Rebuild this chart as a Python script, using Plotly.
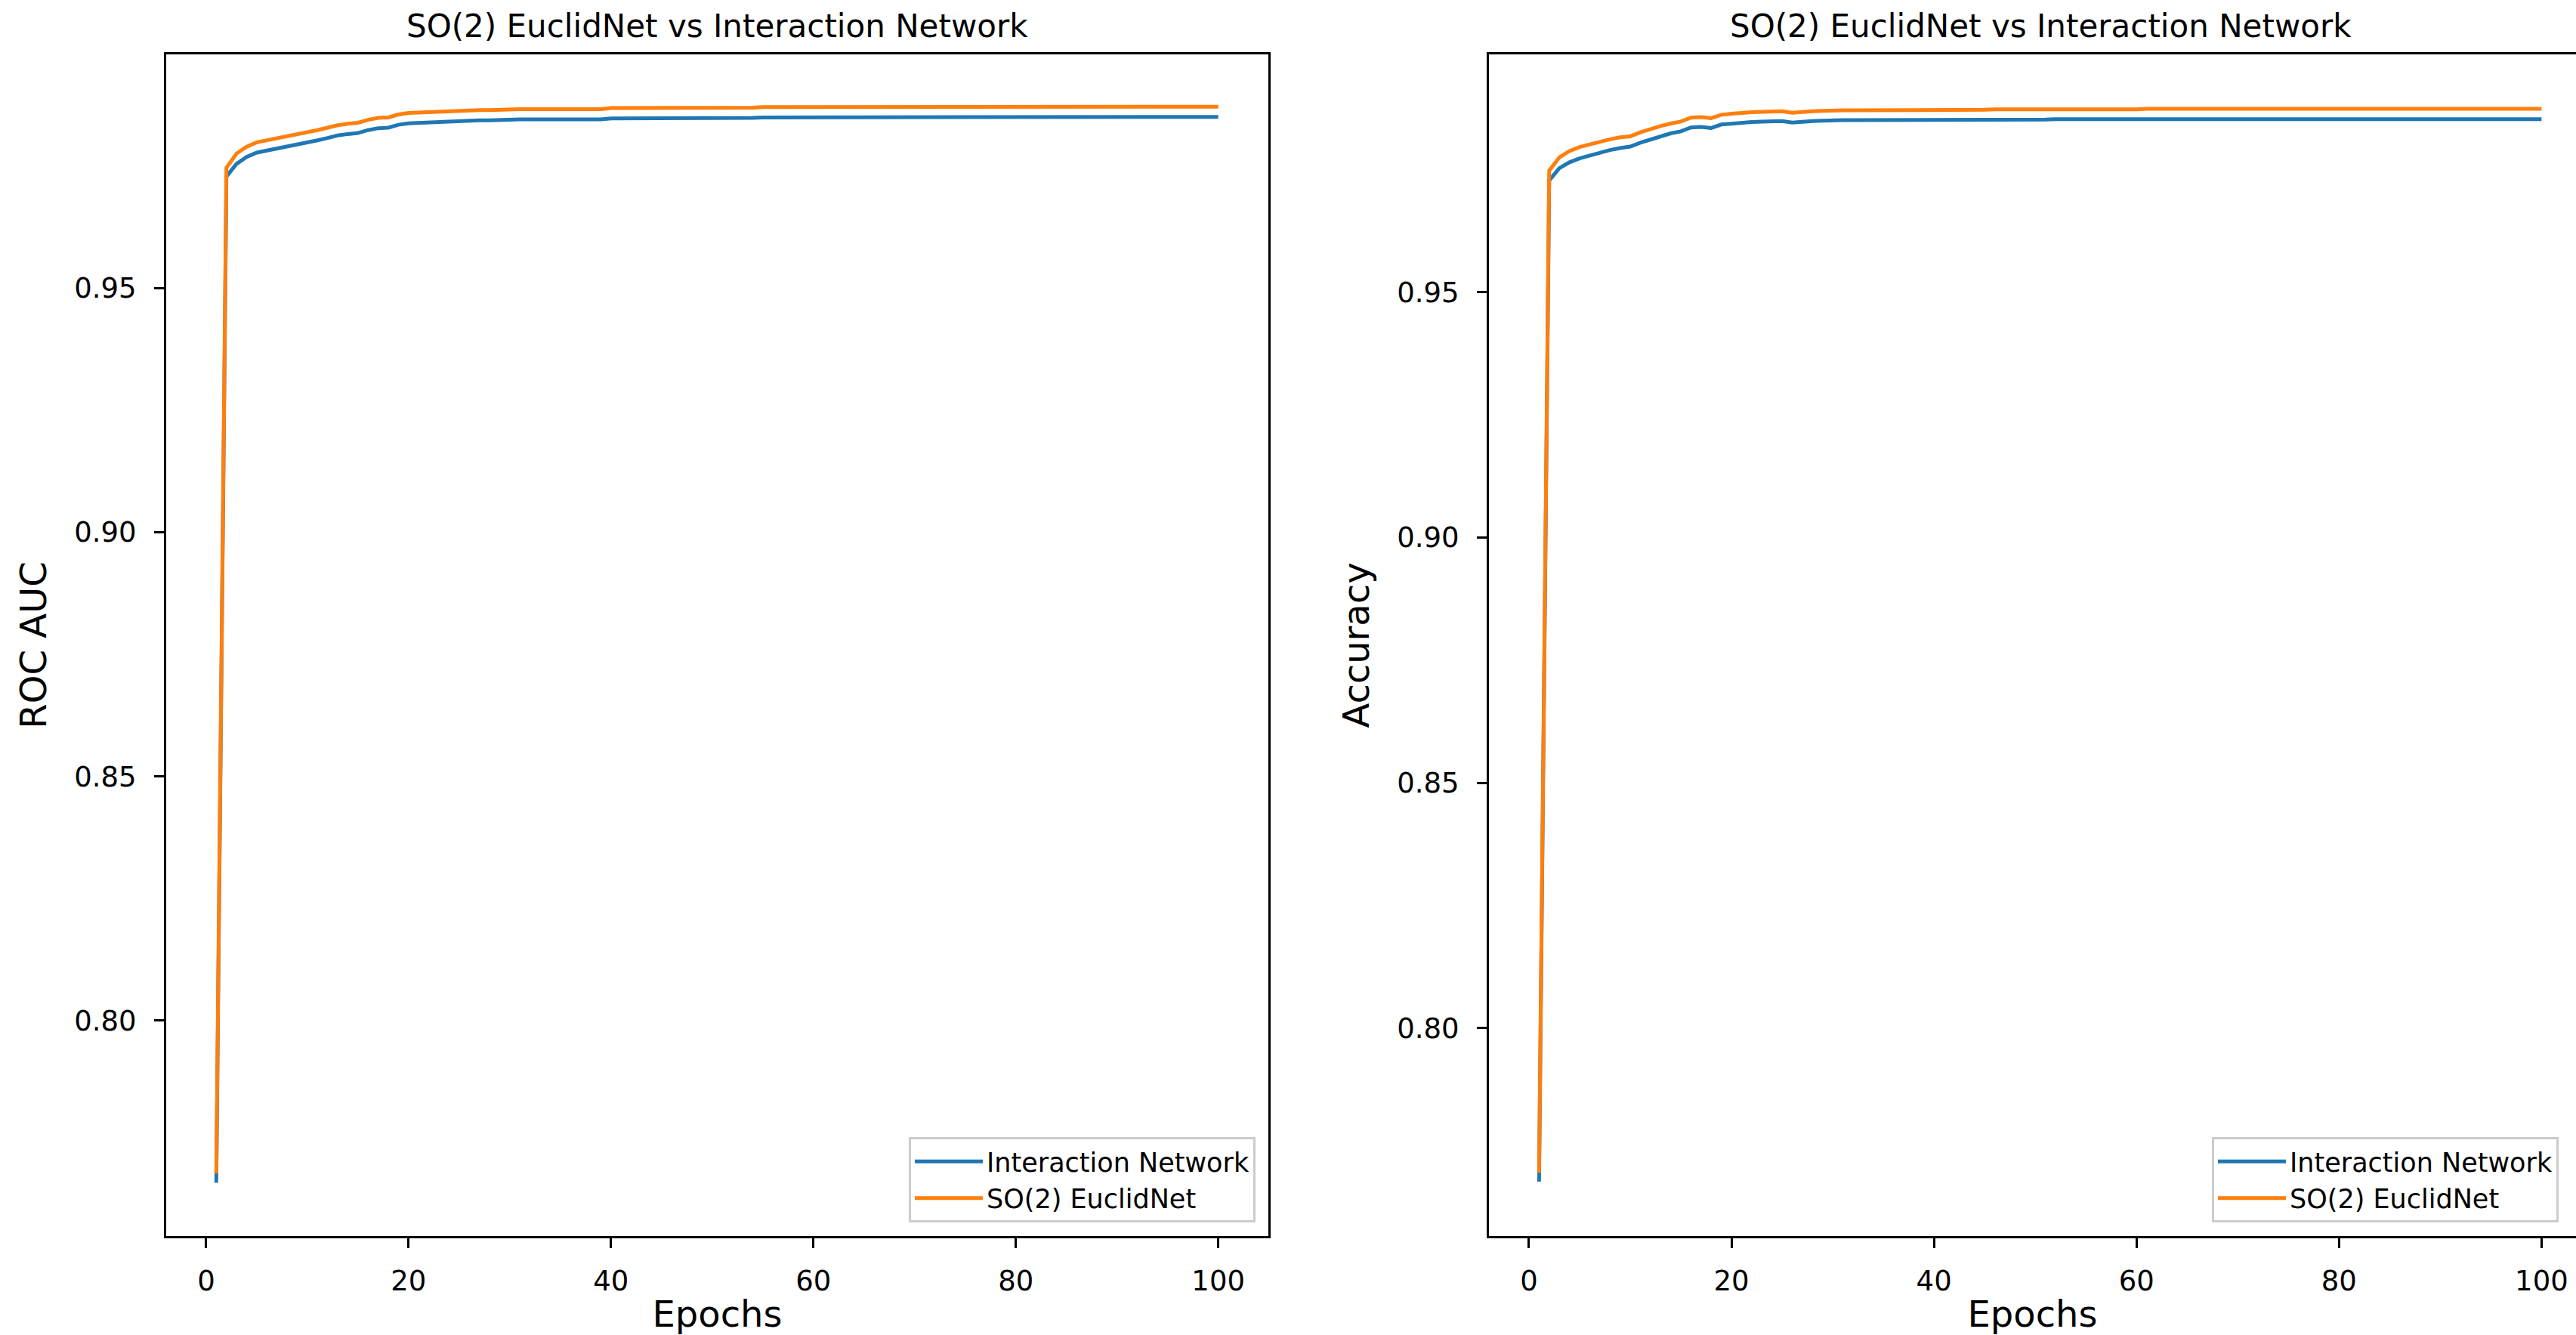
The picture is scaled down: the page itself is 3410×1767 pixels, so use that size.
import plotly.graph_objects as go

W, H = 3410, 1767
FONT = "DejaVu Sans"
BLUE = "#1f77b4"
ORANGE = "#ff7f0e"

epochs = list(range(1, 101))
title_text = "SO(2) EuclidNet vs Interaction Network"
series_names = ["Interaction Network", "SO(2) EuclidNet"]
x_ticks = [0, 20, 40, 60, 80, 100]
y_ticks = [0.80, 0.85, 0.90, 0.95]

roc_in = [0.7668, 0.9728, 0.9754, 0.9768, 0.9777, 0.9781, 0.9785, 0.9789, 0.9794, 0.9798,
          0.9802, 0.9807, 0.9812, 0.9815, 0.9817, 0.9823, 0.9827, 0.9828, 0.9834, 0.9837,
          0.9838, 0.9839, 0.9840, 0.9841, 0.9842, 0.9842, 0.9843, 0.9843, 0.9844, 0.9845,
          0.9845, 0.9845, 0.9845, 0.9846, 0.9846, 0.9846, 0.9846, 0.9846, 0.9845, 0.9847,
          0.9847, 0.9847, 0.9847, 0.9847, 0.9848, 0.9848, 0.9848, 0.9848, 0.9847, 0.9848,
          0.9848, 0.9848, 0.9848, 0.9848, 0.9849, 0.9849, 0.9849, 0.9849, 0.9849, 0.9849,
          0.9849, 0.9849, 0.9849, 0.9849, 0.9849, 0.9849, 0.9849, 0.9849, 0.9849, 0.9849,
          0.9850, 0.9850, 0.9850, 0.9850, 0.9850, 0.9850, 0.9850, 0.9850, 0.9850, 0.9850,
          0.9850, 0.9850, 0.9850, 0.9850, 0.9850, 0.9850, 0.9850, 0.9850, 0.9850, 0.9850,
          0.9850, 0.9850, 0.9850, 0.9850, 0.9850, 0.9850, 0.9850, 0.9850, 0.9850, 0.9850]

roc_so2 = [0.7687, 0.9746, 0.9775, 0.9789, 0.9798, 0.9802, 0.9806, 0.9810, 0.9815, 0.9819,
           0.9823, 0.9828, 0.9833, 0.9836, 0.9838, 0.9844, 0.9848, 0.9849, 0.9855, 0.9858,
           0.9859, 0.9860, 0.9861, 0.9862, 0.9863, 0.9863, 0.9864, 0.9864, 0.9865, 0.9866,
           0.9866, 0.9866, 0.9866, 0.9867, 0.9867, 0.9867, 0.9867, 0.9867, 0.9866, 0.9868,
           0.9868, 0.9868, 0.9868, 0.9868, 0.9869, 0.9869, 0.9869, 0.9869, 0.9868, 0.9869,
           0.9869, 0.9869, 0.9869, 0.9869, 0.9870, 0.9870, 0.9870, 0.9870, 0.9870, 0.9870,
           0.9870, 0.9870, 0.9870, 0.9870, 0.9870, 0.9870, 0.9870, 0.9870, 0.9870, 0.9870,
           0.9871, 0.9871, 0.9871, 0.9871, 0.9871, 0.9871, 0.9871, 0.9871, 0.9871, 0.9871,
           0.9871, 0.9871, 0.9871, 0.9871, 0.9871, 0.9871, 0.9871, 0.9871, 0.9871, 0.9871,
           0.9871, 0.9871, 0.9871, 0.9871, 0.9871, 0.9871, 0.9871, 0.9871, 0.9871, 0.9871]

acc_in = [0.7687, 0.9728, 0.9753, 0.9765, 0.9773, 0.9779, 0.9785, 0.9790, 0.9794, 0.9797,
          0.9805, 0.9812, 0.9818, 0.9824, 0.9828, 0.9836, 0.9837, 0.9835, 0.9842, 0.9844,
          0.9846, 0.9847, 0.9848, 0.9849, 0.9849, 0.9846, 0.9848, 0.9849, 0.9850, 0.9851,
          0.9851, 0.9851, 0.9851, 0.9852, 0.9852, 0.9852, 0.9852, 0.9852, 0.9852, 0.9852,
          0.9852, 0.9852, 0.9852, 0.9851, 0.9852, 0.9852, 0.9852, 0.9852, 0.9852, 0.9852,
          0.9852, 0.9853, 0.9853, 0.9853, 0.9853, 0.9853, 0.9853, 0.9852, 0.9853, 0.9853,
          0.9853, 0.9853, 0.9853, 0.9853, 0.9853, 0.9853, 0.9853, 0.9853, 0.9853, 0.9853,
          0.9853, 0.9853, 0.9853, 0.9853, 0.9853, 0.9853, 0.9853, 0.9853, 0.9853, 0.9853,
          0.9853, 0.9853, 0.9853, 0.9853, 0.9853, 0.9853, 0.9853, 0.9853, 0.9853, 0.9853,
          0.9853, 0.9853, 0.9853, 0.9853, 0.9853, 0.9853, 0.9853, 0.9853, 0.9853, 0.9853]

acc_so2 = [0.7705, 0.9748, 0.9775, 0.9788, 0.9796, 0.9802, 0.9807, 0.9812, 0.9816, 0.9818,
           0.9826, 0.9833, 0.9839, 0.9844, 0.9848, 0.9856, 0.9857, 0.9855, 0.9862, 0.9864,
           0.9866, 0.9867, 0.9868, 0.9869, 0.9869, 0.9866, 0.9868, 0.9869, 0.9870, 0.9871,
           0.9871, 0.9871, 0.9871, 0.9872, 0.9872, 0.9872, 0.9872, 0.9872, 0.9872, 0.9872,
           0.9872, 0.9872, 0.9872, 0.9871, 0.9872, 0.9873, 0.9873, 0.9873, 0.9873, 0.9873,
           0.9873, 0.9873, 0.9873, 0.9873, 0.9873, 0.9873, 0.9873, 0.9872, 0.9873, 0.9873,
           0.9874, 0.9874, 0.9874, 0.9874, 0.9874, 0.9874, 0.9874, 0.9874, 0.9874, 0.9874,
           0.9874, 0.9874, 0.9874, 0.9874, 0.9874, 0.9874, 0.9874, 0.9874, 0.9874, 0.9874,
           0.9874, 0.9874, 0.9874, 0.9874, 0.9874, 0.9874, 0.9874, 0.9874, 0.9874, 0.9874,
           0.9874, 0.9874, 0.9874, 0.9874, 0.9874, 0.9874, 0.9874, 0.9874, 0.9874, 0.9874]

fig = go.Figure()
LW = 5
fig.add_trace(go.Scatter(x=epochs, y=roc_in, mode="lines", name=series_names[0],
                         line=dict(color=BLUE, width=LW), xaxis="x", yaxis="y", legend="legend"))
fig.add_trace(go.Scatter(x=epochs, y=roc_so2, mode="lines", name=series_names[1],
                         line=dict(color=ORANGE, width=LW), xaxis="x", yaxis="y", legend="legend"))
fig.add_trace(go.Scatter(x=epochs, y=acc_in, mode="lines", name=series_names[0],
                         line=dict(color=BLUE, width=LW), xaxis="x2", yaxis="y2", legend="legend2"))
fig.add_trace(go.Scatter(x=epochs, y=acc_so2, mode="lines", name=series_names[1],
                         line=dict(color=ORANGE, width=LW), xaxis="x2", yaxis="y2", legend="legend2"))

# pixel geometry
L_x0, L_x1 = 220 / W, 1679 / W
R_x0, R_x1 = 1971 / W, 1.0
Y0, Y1 = 1 - 1636 / H, 1 - 72 / H

axis_common = dict(
    showline=True, linecolor="black", linewidth=3,
    ticks="outside", ticklen=13, tickwidth=3, tickcolor="black",
    showgrid=False, zeroline=False,
    tickfont=dict(family=FONT, size=37, color="black"),
    title_font=dict(family=FONT, size=48, color="black"),
)

legend_common = dict(
    bgcolor="rgba(255,255,255,0.8)", bordercolor="#cccccc", borderwidth=3,
    font=dict(family=FONT, size=35, color="black"), tracegroupgap=0, itemwidth=90,
    y=1 - 1618 / H, yanchor="bottom",
)

fig.update_layout(
    width=W, height=H,
    margin=dict(l=0, r=0, t=0, b=0, autoexpand=False),
    paper_bgcolor="white", plot_bgcolor="white",
    font=dict(family=FONT, color="black"),
    xaxis=dict(domain=[L_x0, L_x1], anchor="y", range=[-3.95, 104.95], mirror=True,
               tickvals=x_ticks, title=dict(text="Epochs", standoff=10), ticklabelstandoff=12,
               **axis_common),
    yaxis=dict(domain=[Y0, Y1], anchor="x", range=[0.7559, 0.9978], mirror=True,
               tickvals=y_ticks, tickformat=".2f", title=dict(text="ROC AUC", standoff=22),
               ticklabelstandoff=16, **axis_common),
    xaxis2=dict(domain=[R_x0, R_x1], anchor="y2", range=[-3.95, 103.4], mirror=True,
                tickvals=x_ticks, title=dict(text="Epochs", standoff=10), ticklabelstandoff=12,
                **axis_common),
    yaxis2=dict(domain=[Y0, Y1], anchor="x2", range=[0.7576, 0.9985], mirror=False,
                tickvals=y_ticks, tickformat=".2f", title=dict(text="Accuracy", standoff=22),
                ticklabelstandoff=16, **axis_common),
    legend=dict(x=1662 / W, xanchor="right", **legend_common),
    legend2=dict(x=2928 / W, xanchor="left", **legend_common),
    showlegend=True,
)

for xc in [(L_x0 + L_x1) / 2, (1971 + 3431) / 2 / W]:
    fig.add_annotation(text=title_text, x=xc, y=1 - 35 / H, xref="paper", yref="paper",
                       xanchor="center", yanchor="middle", showarrow=False,
                       font=dict(family=FONT, size=42, color="black"))

fig.write_html("out.html")
